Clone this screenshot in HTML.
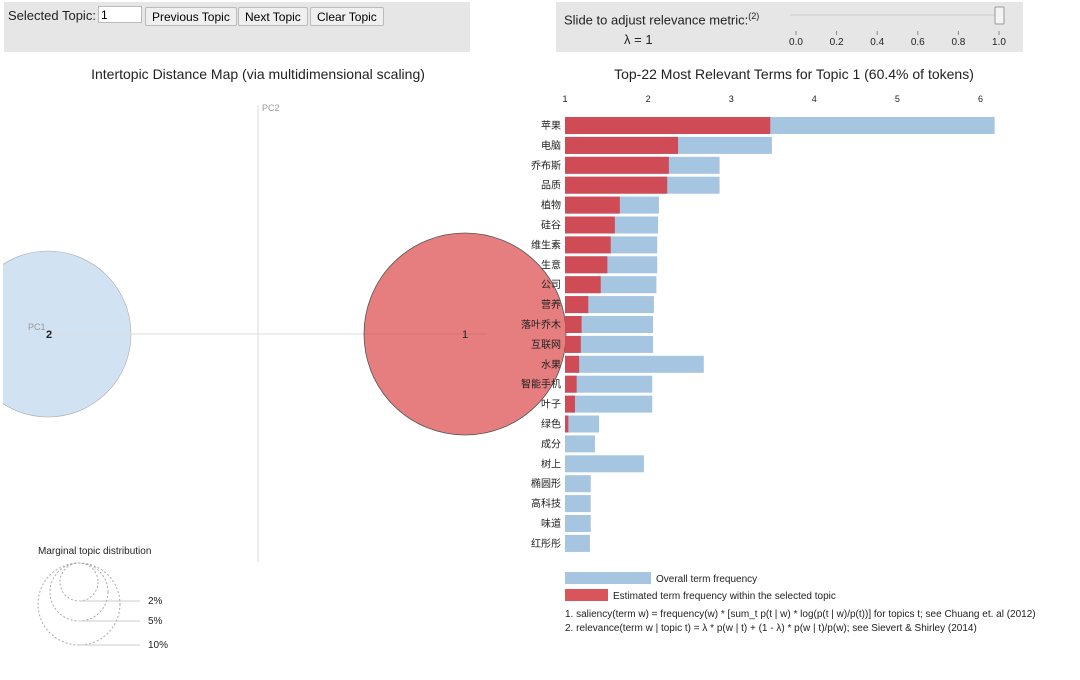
<!DOCTYPE html>
<html><head><meta charset="utf-8"><style>
body{margin:0;background:#fff;width:1080px;height:680px;overflow:hidden;font-family:"Liberation Sans","Noto Sans CJK SC",sans-serif}
#top{position:absolute;left:4px;top:2px;width:466px;height:50px;background:#e6e6e6}
#top2{position:absolute;left:556px;top:2px;width:467px;height:50px;background:#e6e6e6}
button{font-family:"Liberation Sans",sans-serif;font-size:12px;height:19px;padding:0 6px;background:#efefef;border:1px solid #bbb;border-radius:2px;position:absolute;top:5px}
</style></head><body>
<div id="top">
<span style="position:absolute;left:4px;top:6px;font-size:13px;color:#222">Selected Topic:</span>
<input value="1" style="position:absolute;left:94px;top:4px;width:38px;height:15px;font-size:12px;border:1px solid #bbb;padding:0 2px">
<button style="left:141px">Previous Topic</button>
<button style="left:234px">Next Topic</button>
<button style="left:306px">Clear Topic</button>
</div>
<div id="top2">
<span style="position:absolute;left:8px;top:9px;font-size:13px;color:#222">Slide to adjust relevance metric:<sup style="font-size:9px">(2)</sup></span>
<span style="position:absolute;left:68px;top:30px;font-size:13px;color:#222">λ = 1</span>
</div>
<svg id="svg" width="1080" height="680" style="position:absolute;left:0;top:0" xmlns="http://www.w3.org/2000/svg"></svg>
<script>
const terms=["苹果","电脑","乔布斯","品质","植物","硅谷","维生素","生意","公司","营养","落叶乔木","互联网","水果","智能手机","叶子","绿色","成分","树上","椭圆形","高科技","味道","红彤彤"];
const totalFreq=[6.17,3.49,2.86,2.86,2.13,2.12,2.11,2.11,2.10,2.07,2.06,2.06,2.67,2.05,2.05,1.41,1.36,1.95,1.31,1.31,1.31,1.30];
const topicFreq=[3.47,2.36,2.25,2.23,1.66,1.60,1.55,1.51,1.43,1.28,1.20,1.19,1.17,1.14,1.12,1.04,1.0,1.0,1.0,1.0,1.0,1.0];
const xTicks=[1,2,3,4,5,6];
const sliderTicks=["0.0","0.2","0.4","0.6","0.8","1.0"];
const NS="http://www.w3.org/2000/svg",svg=document.getElementById('svg');
function mk(t,a,txt){const e=document.createElementNS(NS,t);for(const k in a)e.setAttribute(k,a[k]);if(txt!=null)e.textContent=txt;svg.appendChild(e);return e;}
const x=v=>565+(v-1)*83.1, y=i=>117+i*19.9;
// slider
let e=mk('line',{x1:790,y1:15,x2:1000,y2:15,stroke:'#d8d8d8','stroke-width':2});

sliderTicks.forEach((t,i)=>{const sx=796+i*40.6;
 mk('line',{x1:sx,y1:31,x2:sx,y2:35,stroke:'#888'});
 e=mk('text',{x:sx,y:45,'font-size':10,'text-anchor':'middle',fill:'#222'},t);
 });
e=mk('rect',{x:995,y:7,width:9,height:17,fill:'#f3f3f3',stroke:'#999',rx:1});

// titles
e=mk('text',{x:258,y:79,'font-size':14,'text-anchor':'middle',fill:'#222'},'Intertopic Distance Map (via multidimensional scaling)');

e=mk('text',{x:794,y:79,'font-size':14,'text-anchor':'middle',fill:'#222'},'Top-22 Most Relevant Terms for Topic 1 (60.4% of tokens)');

// MDS
mk('defs',{}).innerHTML='<clipPath id="c"><rect x="3" y="90" width="560" height="480"/></clipPath>';
e=mk('circle',{cx:48,cy:334,r:83,fill:'#c6dbef','fill-opacity':0.8,stroke:'#aaa','stroke-width':0.6,'clip-path':'url(#c)'});

mk('line',{x1:258,y1:105,x2:258,y2:562,stroke:'#ddd'});
mk('line',{x1:40,y1:334,x2:487,y2:334,stroke:'#ddd'});
e=mk('text',{x:262,y:111,'font-size':9,fill:'#999'},'PC2');
e=mk('text',{x:28,y:330,'font-size':9,fill:'#999'},'PC1');
e=mk('circle',{cx:465,cy:334,r:101,fill:'#d62728','fill-opacity':0.6,stroke:'#555','stroke-width':0.8});

e=mk('text',{x:49,y:338,'font-size':11,'font-weight':'bold','text-anchor':'middle',fill:'#222'},'2');
e=mk('text',{x:465,y:338,'font-size':11,'text-anchor':'middle',fill:'#222'},'1');
// marginal
e=mk('text',{x:38,y:554,'font-size':10,fill:'#222'},'Marginal topic distribution');
[[19,'2%'],[29,'5%'],[41,'10%']].forEach(([r,l])=>{const cy=563+r;
 mk('circle',{cx:79,cy:cy,r:r,fill:'none',stroke:'#aaa','stroke-dasharray':'2 2'});
 mk('line',{x1:79,y1:cy+r,x2:140,y2:cy+r,stroke:'#ccc'});
 e=mk('text',{x:148,y:cy+r+3,'font-size':10,fill:'#222'},l);});
// axis
xTicks.forEach(t=>{e=mk('text',{x:x(t),y:102,'font-size':9,'text-anchor':'middle',fill:'#222'},t);
 });
terms.forEach((t,i)=>{
 e=mk('rect',{x:x(1),y:y(i),width:x(totalFreq[i])-x(1),height:17,fill:'#a6c5e0'});
 
 if(topicFreq[i]>1){e=mk('rect',{x:x(1),y:y(i),width:x(topicFreq[i])-x(1),height:17,fill:'#cf4b55'});
 }
 e=mk('text',{x:561,y:y(i)+12,'font-size':10,'text-anchor':'end',fill:'#222'},t);
 });
// legend
e=mk('rect',{x:565,y:572,width:86,height:12,fill:'#a6c5e0'});
e=mk('text',{x:656,y:582,'font-size':10,fill:'#222'},'Overall term frequency');
e=mk('rect',{x:565,y:589,width:43,height:12,fill:'#d9555c'});
e=mk('text',{x:613,y:599,'font-size':10,fill:'#222'},'Estimated term frequency within the selected topic');
e=mk('text',{x:565,y:617,'font-size':10,fill:'#222'},'1. saliency(term w) = frequency(w) * [sum_t p(t | w) * log(p(t | w)/p(t))] for topics t; see Chuang et. al (2012)');
e=mk('text',{x:565,y:631,'font-size':10,fill:'#222'},'2. relevance(term w | topic t) = λ * p(w | t) + (1 - λ) * p(w | t)/p(w); see Sievert & Shirley (2014)');
</script>
</body></html>
